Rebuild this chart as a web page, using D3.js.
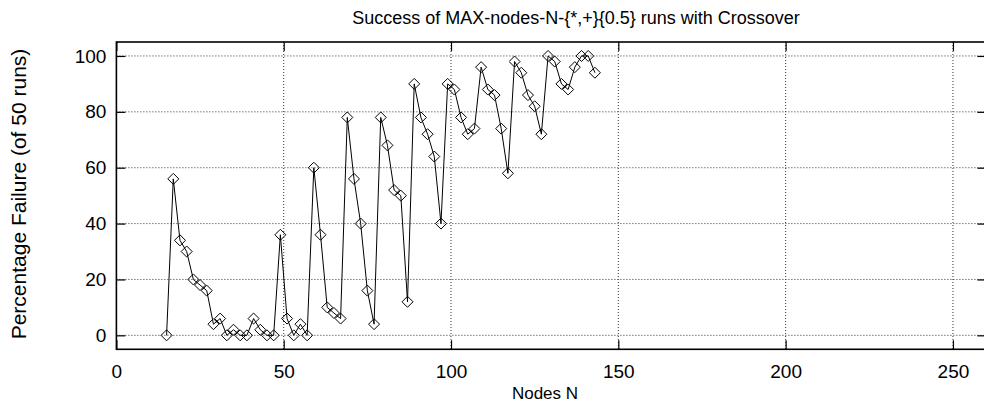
<!DOCTYPE html>
<html>
<head>
<meta charset="utf-8">
<script src="https://cdn.jsdelivr.net/npm/d3@7"></script>
<style>
  body { margin: 0; background: #fff; }
  text { font-family: "Liberation Sans", Arial, sans-serif; fill: #000; }
</style>
</head>
<body>
<svg id="chart" width="984" height="410"></svg>
<script>
// node counts N (x) and percentage failure (y)
var nodes = [15, 17, 19, 21, 23, 25, 27, 29, 31, 33, 35, 37, 39, 41, 43, 45, 47, 49, 51, 53,
  55, 57, 59, 61, 63, 65, 67, 69, 71, 73, 75, 77, 79, 81, 83, 85, 87, 89, 91, 93,
  95, 97, 99, 101, 103, 105, 107, 109, 111, 113, 115, 117, 119, 121, 123, 125, 127, 129, 131, 133,
  135, 137, 139, 141, 143];
var failure = [0, 56, 34, 30, 20, 18, 16, 4, 6, 0, 2, 0, 0, 6, 2, 0, 0, 36, 6, 0,
  4, 0, 60, 36, 10, 8, 6, 78, 56, 40, 16, 4, 78, 68, 52, 50, 12, 90, 78, 72,
  64, 40, 90, 88, 78, 72, 74, 96, 88, 86, 74, 58, 98, 94, 86, 82, 72, 100, 98, 90,
  88, 96, 100, 100, 94];

var xTicks = [0, 50, 100, 150, 200, 250];
var yTicks = [0, 20, 40, 60, 80, 100];

var title = "Success of MAX-nodes-N-{*,+}{0.5} runs with Crossover";
var xLabel = "Nodes N";
var yLabel = "Percentage Failure (of 50 runs)";

var data = nodes.map(function(n, i) {
  return { n: n, value: failure[i] };
});

var svg = d3.select("#chart"),
  margin = { top: 42, right: -2.4, bottom: 60.7, left: 116.4 },
  width = +svg.attr("width") - margin.left - margin.right,
  height = +svg.attr("height") - margin.top - margin.bottom;

var x = d3.scaleLinear().domain([0, 260]).range([0, width]);
var y = d3.scaleLinear().domain([-5, 105]).range([height, 0]);

var g = svg
  .append("g")
  .attr("transform", "translate(" + margin.left + "," + margin.top + ")");

// dotted grid
g.append("g")
  .attr("class", "grid")
  .selectAll("line")
  .data(yTicks)
  .enter()
  .append("line")
  .attr("x1", 0)
  .attr("x2", width)
  .attr("y1", function(d) { return y(d); })
  .attr("y2", function(d) { return y(d); })
  .attr("stroke", "#333")
  .attr("stroke-dasharray", "1,2");

g.append("g")
  .attr("class", "grid")
  .selectAll("line")
  .data(xTicks.filter(function(d) { return d > 0; }))
  .enter()
  .append("line")
  .attr("y1", 0)
  .attr("y2", height)
  .attr("x1", function(d) { return x(d); })
  .attr("x2", function(d) { return x(d); })
  .attr("stroke", "#333")
  .attr("stroke-dasharray", "1,2");

// axes, ticks pointing inwards on all four sides
g.append("g")
  .attr("class", "x axis")
  .attr("transform", "translate(0," + height + ")")
  .call(d3.axisBottom(x).tickValues(xTicks).tickSizeInner(-9).tickSizeOuter(0).tickPadding(15));

g.append("g")
  .attr("class", "x axis top")
  .call(d3.axisTop(x).tickValues(xTicks).tickSizeInner(-9).tickSizeOuter(0).tickFormat(""));

g.append("g")
  .attr("class", "y axis")
  .call(d3.axisLeft(y).tickValues(yTicks).tickSizeInner(-9).tickSizeOuter(0).tickPadding(10));

g.append("g")
  .attr("class", "y axis right")
  .attr("transform", "translate(" + width + ",0)")
  .call(d3.axisRight(y).tickValues(yTicks).tickSizeInner(-9).tickSizeOuter(0).tickFormat(""));

g.selectAll(".axis .domain").remove();
g.selectAll(".axis line").attr("stroke", "#000").attr("stroke-width", 1.2);
g.selectAll(".axis text")
  .style("font-size", "19px")
  .style("font-family", "'Liberation Sans', Arial, sans-serif")
  .attr("fill", "#000");

// frame
g.append("rect")
  .attr("x", 0)
  .attr("y", 0)
  .attr("width", width)
  .attr("height", height)
  .attr("fill", "none")
  .attr("stroke", "#000")
  .attr("stroke-width", 1.6);

// the series
var line = d3
  .line()
  .x(function(d) { return x(d.n); })
  .y(function(d) { return y(d.value); });

g.append("path")
  .datum(data)
  .attr("fill", "none")
  .attr("stroke", "#000")
  .attr("stroke-width", 1)
  .attr("d", line);

g.selectAll(".point")
  .data(data)
  .enter()
  .append("path")
  .attr("class", "point")
  .attr("transform", function(d) {
    return "translate(" + x(d.n) + "," + y(d.value) + ")";
  })
  .attr("d", "M0,-5.5L5.5,0L0,5.5L-5.5,0Z")
  .attr("fill", "none")
  .attr("stroke", "#000")
  .attr("stroke-width", 1);

// labels
svg.append("text")
  .attr("x", 576)
  .attr("y", 24)
  .attr("text-anchor", "middle")
  .style("font-size", "18px")
  .text(title);

svg.append("text")
  .attr("x", 545)
  .attr("y", 399)
  .attr("text-anchor", "middle")
  .style("font-size", "17px")
  .text(xLabel);

svg.append("text")
  .attr("transform", "translate(26,194) rotate(-90)")
  .attr("text-anchor", "middle")
  .style("font-size", "21px")
  .text(yLabel);
</script>
</body>
</html>
